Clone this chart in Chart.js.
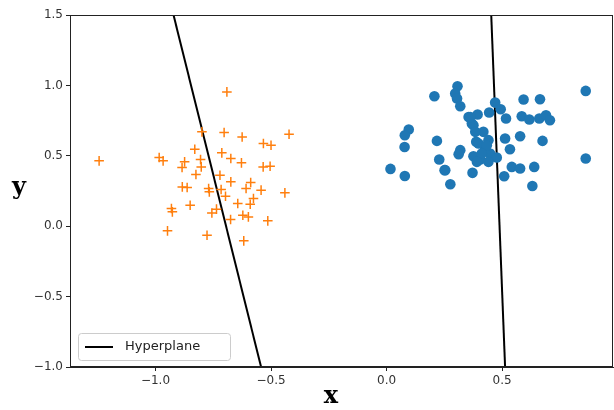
<!DOCTYPE html>
<html>
<head>
<meta charset="utf-8">
<script src="https://cdn.jsdelivr.net/npm/chart.js@4/dist/chart.umd.min.js"></script>
<style>
  html, body { margin: 0; padding: 0; background: #fff; }
  #wrap { width: 614px; height: 410px; }
</style>
</head>
<body>
<div id="wrap"><canvas id="chart" width="614" height="410"></canvas></div>
<script>
// class +1 (plus markers)
const orangeX = [-0.691, -0.799, -0.703, -0.625, -0.422, -0.533, -0.500, -1.244, -0.984, -0.967,
  -0.830, -0.713, -0.674, -0.628, -0.805, -0.874, -0.885, -0.802, -0.534, -0.504,
  -0.825, -0.721, -0.674, -0.588, -0.884, -0.863, -0.770, -0.716, -0.608, -0.543,
  -0.767, -0.697, -0.440, -0.576, -0.850, -0.644, -0.590, -0.931, -0.927, -0.736,
  -0.756, -0.622, -0.598, -0.675, -0.514, -0.948, -0.777, -0.618];
const orangeY = [0.954, 0.670, 0.665, 0.634, 0.653, 0.587, 0.575, 0.464, 0.488, 0.464,
  0.547, 0.521, 0.481, 0.450, 0.474, 0.457, 0.417, 0.421, 0.421, 0.426,
  0.367, 0.362, 0.315, 0.310, 0.279, 0.275, 0.268, 0.261, 0.268, 0.256,
  0.244, 0.213, 0.237, 0.197, 0.149, 0.161, 0.156, 0.126, 0.102, 0.121,
  0.094, 0.078, 0.066, 0.048, 0.038, -0.033, -0.064, -0.104];

// class -1 (filled circles)
const blueX = [0.307, 0.207, 0.297, 0.305, 0.862, 0.593, 0.664, 0.470, 0.319, 0.444,
  0.494, 0.355, 0.394, 0.517, 0.585, 0.618, 0.661, 0.690, 0.707, 0.369,
  0.096, 0.079, 0.078, 0.218, 0.419, 0.441, 0.388, 0.513, 0.578, 0.675,
  0.427, 0.448, 0.534, 0.319, 0.312, 0.376, 0.405, 0.477, 0.228, 0.441,
  0.017, 0.251, 0.542, 0.578, 0.639, 0.862, 0.079, 0.372, 0.509, 0.276,
  0.631, 0.376, 0.384, 0.398, 0.434, 0.412, 0.391, 0.362, 0.254];
const blueY = [0.994, 0.923, 0.942, 0.907, 0.961, 0.900, 0.902, 0.878, 0.852, 0.808,
  0.831, 0.776, 0.793, 0.765, 0.781, 0.758, 0.765, 0.788, 0.753, 0.729,
  0.687, 0.646, 0.563, 0.606, 0.670, 0.611, 0.599, 0.623, 0.639, 0.606,
  0.552, 0.516, 0.547, 0.540, 0.511, 0.497, 0.474, 0.488, 0.474, 0.457,
  0.407, 0.398, 0.421, 0.410, 0.421, 0.481, 0.357, 0.379, 0.355, 0.298,
  0.286, 0.717, 0.670, 0.587, 0.575, 0.516, 0.457, 0.776, 0.398];

// separating lines, endpoints at the top and bottom of the y range
const planeAX = [-0.922, -0.543];
const planeBX = [0.453, 0.513];
const planeY = [1.5, -1.0];

const X_TICKS = [-1.0, -0.5, 0.0, 0.5];
const Y_TICKS = [-1.0, -0.5, 0.0, 0.5, 1.0, 1.5];

const toPts = (xs, ys) => xs.map((x, i) => ({ x, y: ys[i] }));
const fmt = (v) => (v < 0 ? '\u2212' : '') + Math.abs(v).toFixed(1);

const TICK_FONT = { family: "'DejaVu Sans', sans-serif", size: 12 };

// full box around the plot + inset legend + upright axis labels
const framePlugin = {
  id: 'frame',
  afterDraw(chart) {
    const { ctx, chartArea: a } = chart;
    ctx.save();
    ctx.strokeStyle = '#222';
    ctx.lineWidth = 1;
    ctx.strokeRect(a.left + 0.5, a.top + 0.5, a.right - a.left - 1, a.bottom - a.top - 1);

    // legend
    const lx = a.left + 8, ly = a.bottom - 34, lw = 152, lh = 27;
    ctx.fillStyle = 'rgba(255,255,255,0.85)';
    ctx.strokeStyle = '#ccc';
    ctx.beginPath();
    ctx.roundRect(lx + 0.5, ly + 0.5, lw, lh, 3);
    ctx.fill();
    ctx.stroke();
    ctx.strokeStyle = '#000';
    ctx.lineWidth = 2;
    ctx.beginPath();
    ctx.moveTo(lx + 7, ly + 14);
    ctx.lineTo(lx + 35, ly + 14);
    ctx.stroke();
    ctx.fillStyle = '#222';
    ctx.font = "13px 'DejaVu Sans', sans-serif";
    ctx.textBaseline = 'middle';
    ctx.fillText(chart.data.datasets[2].label, lx + 47, ly + 14);

    // axis labels
    ctx.font = "bold 24px 'DejaVu Serif', serif";
    ctx.textAlign = 'center';
    ctx.fillStyle = '#000';
    ctx.fillText('x', 331, 397);
    ctx.fillText('y', 19, 188);
    ctx.restore();
  }
};

new Chart(document.getElementById('chart'), {
  type: 'scatter',
  data: {
    datasets: [
      {
        label: '+1', data: toPts(orangeX, orangeY),
        pointStyle: 'cross', pointRadius: 4.8, pointBorderWidth: 1.5,
        borderColor: '#ff7f0e', backgroundColor: '#ff7f0e', pointHoverRadius: 4.8,
      },
      {
        label: '-1', data: toPts(blueX, blueY),
        pointStyle: 'circle', pointRadius: 5.3, pointBorderWidth: 0,
        borderColor: '#1f77b4', backgroundColor: '#1f77b4',
      },
      {
        type: 'line', label: 'Hyperplane', data: toPts(planeAX, planeY),
        borderColor: '#000', borderWidth: 2, pointRadius: 0, showLine: true, fill: false,
      },
      {
        type: 'line', label: 'Hyperplane', data: toPts(planeBX, planeY),
        borderColor: '#000', borderWidth: 2, pointRadius: 0, showLine: true, fill: false,
      },
    ],
  },
  options: {
    responsive: false,
    animation: false,
    layout: { autoPadding: false, padding: { top: 15, right: 1, left: 0, bottom: 0 } },
    plugins: { legend: { display: false }, tooltip: { enabled: false } },
    scales: {
      x: {
        type: 'linear', min: -1.37, max: 0.98,
        afterBuildTicks: (s) => { s.ticks = X_TICKS.map((v) => ({ value: v })); },
        afterFit: (s) => { s.height = 43; s.paddingLeft = 0; s.paddingRight = 0; },
        grid: { drawOnChartArea: false, tickLength: 4, color: '#222' },
        border: { color: '#222' },
        ticks: { callback: fmt, color: '#333', font: TICK_FONT, padding: 3, maxRotation: 0 },
      },
      y: {
        type: 'linear', min: -1.0, max: 1.5,
        afterBuildTicks: (s) => { s.ticks = Y_TICKS.map((v) => ({ value: v })); },
        afterFit: (s) => { s.width = 70; s.paddingTop = 0; s.paddingBottom = 0; },
        grid: { drawOnChartArea: false, tickLength: 4, color: '#222' },
        border: { color: '#222' },
        ticks: { callback: fmt, color: '#333', font: TICK_FONT, padding: 3 },
      },
    },
  },
  plugins: [framePlugin],
});
</script>
</body>
</html>
